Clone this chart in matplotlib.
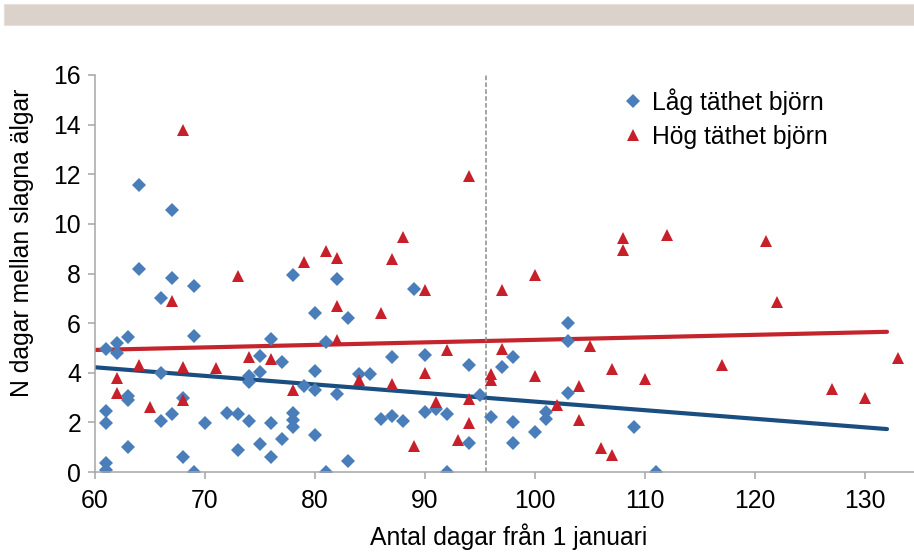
import matplotlib
matplotlib.use("Agg")
import matplotlib.pyplot as plt
from matplotlib.patches import Rectangle

plt.rcParams['font.family'] = ['Liberation Sans', 'DejaVu Sans']

# Låg täthet björn
lagX = [61, 61, 61, 61, 61, 62, 62, 63, 63, 63, 63, 64, 64, 66, 66, 66, 67, 67, 67, 68,
        68, 69, 69, 69, 70, 72, 73, 73, 74, 74, 74, 75, 75, 75, 76, 76, 76, 77, 77, 78,
        78, 78, 78, 79, 80, 80, 80, 80, 81, 81, 82, 82, 83, 83, 84, 85, 86, 87, 87, 88,
        89, 90, 90, 91, 92, 92, 94, 94, 95, 96, 97, 98, 98, 98, 100, 101, 101, 103, 103, 103,
        109, 111]
lagY = [4.95, 2.45, 1.96, 0.35, 0.08, 5.2, 4.8, 5.45, 3.05, 2.9, 1.02, 11.57, 8.17, 7.0, 4.0, 2.06, 10.56, 7.8, 2.35, 2.97,
        0.59, 7.5, 5.5, 0.0, 1.96, 2.37, 2.33, 0.89, 3.87, 3.64, 2.05, 4.68, 4.04, 1.11, 5.35, 1.96, 0.62, 4.45, 1.33, 7.95,
        2.37, 2.1, 1.83, 3.45, 6.4, 4.08, 3.3, 1.49, 5.23, 0.0, 7.78, 3.14, 6.2, 0.46, 3.94, 3.94, 2.12, 4.62, 2.26, 2.07,
        7.38, 4.72, 2.43, 2.53, 2.33, 0.0, 4.31, 1.18, 3.1, 2.23, 4.22, 4.62, 2.0, 1.18, 1.63, 2.43, 2.12, 5.99, 5.29, 3.2,
        1.8, 0.0]

# Hög täthet björn
hogX = [62, 62, 64, 65, 67, 68, 68, 68, 71, 73, 74, 76, 78, 79, 81, 82, 82, 82, 84, 86,
        87, 87, 88, 89, 90, 90, 91, 92, 93, 94, 94, 94, 96, 96, 97, 97, 100, 100, 102, 104,
        104, 105, 106, 107, 107, 108, 108, 110, 112, 117, 121, 122, 127, 130, 133]
hogY = [3.8, 3.17, 4.31, 2.63, 6.9, 13.78, 4.25, 2.9, 4.18, 7.9, 4.65, 4.55, 3.3, 8.45, 8.92, 8.61, 6.69, 5.32, 3.7, 6.4,
        8.57, 3.55, 9.48, 1.05, 7.34, 4.0, 2.83, 4.9, 1.29, 11.93, 2.94, 1.99, 3.95, 3.71, 7.35, 4.95, 7.94, 3.87, 2.7, 3.47,
        2.1, 5.08, 0.95, 4.15, 0.69, 9.42, 8.95, 3.75, 9.55, 4.33, 9.32, 6.84, 3.35, 3.0, 4.6]

# trendlinjer, avlästa ändpunkter
trendX = [60, 132]
trendLag = [4.22, 1.73]
trendHog = [4.92, 5.65]

grans = 95.5  # streckad linje

xTicks = [60, 70, 80, 90, 100, 110, 120, 130]
yTicks = [0, 2, 4, 6, 8, 10, 12, 14, 16]

blue = '#4A7EBB'
red = '#C8202A'
darkblue = '#1B4E80'
trendred = '#C4242C'
axcol = '#A6A6A6'
fs = 17.8


def axis(fig):
    ax = fig.add_axes([95 / 914, 84 / 556, 880 / 914, 397 / 556])
    ax.plot(trendX, trendLag, color=darkblue, lw=3, solid_capstyle='round', zorder=1)
    ax.plot(trendX, trendHog, color=trendred, lw=3, solid_capstyle='round', zorder=1)
    ax.axvline(grans, color='#8C8C8C', lw=1.1, ls=(0, (3, 1.5)), zorder=1.5)
    ax.plot(lagX, lagY, 'D', color=blue, ms=7, mew=0, label='Låg täthet björn', zorder=2)
    ax.plot(hogX, hogY, '^', color=red, ms=9.2, mew=0, label='Hög täthet björn', zorder=3)

    ax.set_xlim(60, 140)
    ax.set_ylim(0, 16)
    ax.set_xticks(xTicks)
    ax.set_yticks(yTicks)
    for s in ['top', 'right']:
        ax.spines[s].set_visible(False)
    for s in ['left', 'bottom']:
        ax.spines[s].set_color(axcol)
        ax.spines[s].set_linewidth(1.1)
    ax.tick_params(direction='out', length=5, width=1.1, color=axcol, labelsize=fs)
    ax.tick_params(axis='x', pad=7)
    ax.tick_params(axis='y', pad=5)
    return ax


def graphic(fig, ax):
    fig.patches.append(Rectangle((4 / 914, 1 - 25 / 556), 910 / 914, 21 / 556,
                                 transform=fig.transFigure, facecolor='#DAD2CB',
                                 edgecolor='#E6E0DA', lw=0.8))
    fig.text(22 / 914, 1 - 243 / 556, 'N dagar mellan slagna älgar', rotation=90,
             ha='center', va='center', fontsize=fs)
    fig.text(509 / 914, 1 - 537 / 556, 'Antal dagar från 1 januari',
             ha='center', va='center', fontsize=fs)
    ax.legend(loc='upper left', bbox_to_anchor=(623 / 914, 1 - 88 / 556),
              bbox_transform=fig.transFigure, frameon=False, borderpad=0,
              borderaxespad=0, handlelength=0.8, handletextpad=0.36,
              labelspacing=0.42, fontsize=fs)


def main():
    fig = plt.figure(figsize=(9.14, 5.56), dpi=100)
    ax = axis(fig)
    graphic(fig, ax)
    fig.savefig('out.png', dpi=100)


if __name__ == "__main__":
    main()
